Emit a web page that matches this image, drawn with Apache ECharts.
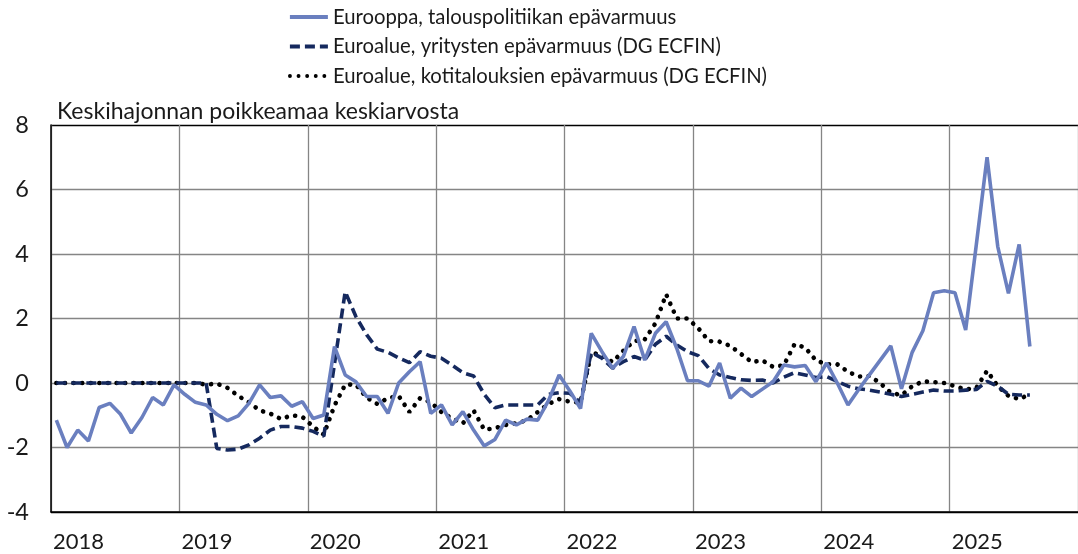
<!DOCTYPE html>
<html>
<head>
<meta charset="utf-8">
<script src="https://cdn.jsdelivr.net/npm/echarts@6/dist/echarts.min.js"></script>
<style>
  html, body { margin: 0; padding: 0; background: #fff; }
  #chart { width: 1078px; height: 554px; }
</style>
</head>
<body>
<div id="chart"></div>
<script>
// vuositunnisteet x-akselille (kuukausia 2018-01 ... 2025-12)
var yearLabels = ['2018', '2019', '2020', '2021', '2022', '2023', '2024', '2025'];
var monthCount = 96;

// Eurooppa, talouspolitiikan epävarmuus (2018-01 .. 2025-08)
var eurooppa = [
  -1.15, -2.0, -1.46, -1.8, -0.76, -0.63, -0.97, -1.55, -1.07, -0.45, -0.68, -0.06,
  -0.35, -0.6, -0.68, -0.97, -1.17, -1.02, -0.63, -0.06, -0.45, -0.4, -0.72, -0.58,
  -1.1, -0.99, 1.13, 0.25, 0.04, -0.42, -0.42, -0.94, 0.0, 0.35, 0.66, -0.94,
  -0.68, -1.3, -0.89, -1.46, -1.95, -1.75, -1.15, -1.3, -1.12, -1.15, -0.55, 0.25,
  -0.25, -0.79, 1.54, 0.97, 0.46, 0.82, 1.75, 0.71, 1.54, 1.9, 1.07, 0.07,
  0.07, -0.1, 0.62, -0.47, -0.16, -0.42, -0.19, 0.04, 0.56, 0.5, 0.54, 0.04,
  0.62, 0.0, -0.68, -0.2, 0.25, 0.7, 1.15, -0.18, 0.95, 1.62, 2.8, 2.86,
  2.8, 1.64, 4.3, 7.0, 4.23, 2.78, 4.3, 1.13
];

// Euroalue, yritysten epävarmuus (DG ECFIN)
var yritykset = [
  0, 0, 0, 0, 0, 0, 0, 0, 0, 0, 0, 0,
  0, 0, 0, -2.03, -2.08, -2.05, -1.92, -1.71, -1.46, -1.35, -1.35, -1.4,
  -1.5, -1.65, 0.6, 2.83, 2.06, 1.5, 1.05, 0.95, 0.78, 0.63, 0.97, 0.83,
  0.77, 0.55, 0.32, 0.22, -0.35, -0.77, -0.68, -0.68, -0.68, -0.68, -0.35, -0.3,
  -0.32, -0.6, 0.95, 0.77, 0.46, 0.66, 0.82, 0.71, 1.2, 1.45, 1.18, 0.97,
  0.85, 0.45, 0.25, 0.17, 0.1, 0.08, 0.09, 0.0, 0.18, 0.32, 0.25, 0.17,
  0.2, 0.05, -0.1, -0.18, -0.22, -0.28, -0.35, -0.42, -0.35, -0.28, -0.22, -0.25,
  -0.25, -0.22, -0.2, 0.05, -0.1, -0.35, -0.37, -0.37
];

// Euroalue, kotitalouksien epävarmuus (DG ECFIN)
var kotitaloudet = [
  0, 0, 0, 0, 0, 0, 0, 0, 0, 0, 0, 0,
  0, 0, -0.05, -0.02, -0.15, -0.4, -0.6, -0.85, -0.95, -1.12, -1.0, -1.05,
  -1.35, -1.6, -0.7, -0.05, -0.05, -0.45, -0.65, -0.47, -0.4, -0.9, -0.47, -0.6,
  -0.9, -1.1, -1.25, -0.85, -1.45, -1.4, -1.3, -1.25, -1.15, -0.9, -0.65, -0.5,
  -0.58, -0.6, 0.95, 0.85, 0.65, 1.0, 1.3, 1.35, 1.85, 2.75, 2.0, 2.0,
  1.7, 1.3, 1.28, 1.15, 0.9, 0.65, 0.7, 0.5, 0.55, 1.2, 1.1, 0.7,
  0.58, 0.58, 0.35, 0.2, 0.22, 0.0, -0.3, -0.38, -0.1, 0.05, 0.03, 0.0,
  -0.1, -0.2, -0.15, 0.38, -0.1, -0.4, -0.5, -0.35
];

var yTicks = { min: -4, max: 8, step: 2 };

// kuukausi i piirretään kuukauden keskelle
function toPoints(arr) {
  return arr.map(function (v, i) { return [i + 0.5, v]; });
}

var font = 'Lato, "Open Sans", sans-serif';
var chart = echarts.init(document.getElementById('chart'));

chart.setOption({
  animation: false,
  backgroundColor: '#fff',
  textStyle: { fontFamily: font },
  grid: { left: 51, top: 125, width: 1030, height: 387 },
  legend: {
    orient: 'vertical',
    left: 283,
    top: 1,
    itemWidth: 38,
    itemHeight: 14,
    itemGap: 7.5,
    itemStyle: { opacity: 0 },
    lineStyle: { width: 3.8 },
    textStyle: { fontSize: 20.3, fontFamily: font, color: '#1a1a1a', lineHeight: 22 }
  },
  graphic: [{
    type: 'text',
    left: 57,
    top: 100,
    style: { text: 'Keskihajonnan poikkeamaa keskiarvosta', font: '23px ' + font, fill: '#1a1a1a' }
  }],
  xAxis: {
    type: 'value',
    min: 0,
    max: monthCount,
    interval: 12,
    axisLine: { show: true, onZero: false, lineStyle: { color: '#000', width: 1.5 } },
    axisTick: { show: false },
    splitLine: { show: true, lineStyle: { color: '#858585', width: 1.3 } },
    axisLabel: {
      showMaxLabel: false,
      align: 'left',
      margin: 19,
      padding: [0, 0, 0, 2],
      fontSize: 22,
      color: '#1a1a1a',
      formatter: function (v) { return yearLabels[v / 12] || ''; }
    }
  },
  yAxis: {
    type: 'value',
    min: yTicks.min,
    max: yTicks.max,
    interval: yTicks.step,
    axisLine: { show: true, lineStyle: { color: '#000', width: 1.5 } },
    axisTick: { show: false },
    splitLine: {
      lineStyle: {
        color: ['#000', '#858585', '#858585', '#858585', '#858585', '#858585', '#000'],
        width: 1.3
      }
    },
    axisLabel: { fontSize: 23.5, margin: 22, color: '#1a1a1a' }
  },
  series: [
    {
      name: 'Eurooppa, talouspolitiikan epävarmuus',
      type: 'line',
      symbol: 'none',
      data: toPoints(eurooppa),
      lineStyle: { color: '#6a7fbf', width: 3.6 },
      itemStyle: { color: '#6a7fbf' },
      z: 4
    },
    {
      name: 'Euroalue, yritysten epävarmuus (DG ECFIN)',
      type: 'line',
      symbol: 'none',
      data: toPoints(yritykset),
      lineStyle: { color: '#15295e', width: 3.6, type: [10, 5] },
      itemStyle: { color: '#15295e' },
      z: 3
    },
    {
      name: 'Euroalue, kotitalouksien epävarmuus (DG ECFIN)',
      type: 'line',
      symbol: 'none',
      data: toPoints(kotitaloudet),
      lineStyle: { color: '#000', width: 4.6, type: [0.1, 8.5], cap: 'round' },
      itemStyle: { color: '#000' },
      z: 2
    }
  ]
});
</script>
</body>
</html>
